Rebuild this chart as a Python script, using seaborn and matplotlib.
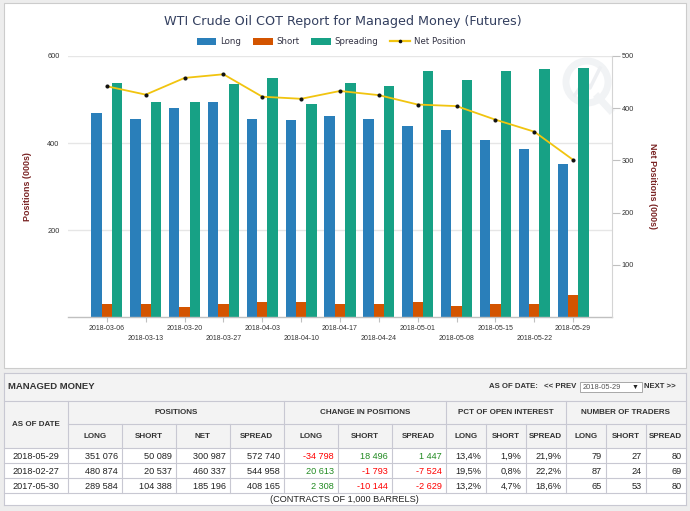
import numpy as np
import pandas as pd
import matplotlib
matplotlib.use("Agg")
import matplotlib.pyplot as plt
from matplotlib.patches import Rectangle, Patch, Circle
from matplotlib.lines import Line2D
import seaborn as sns

# ---------------- data ----------------
dates = ['2018-03-06', '2018-03-13', '2018-03-20', '2018-03-27', '2018-04-03',
         '2018-04-10', '2018-04-17', '2018-04-24', '2018-05-01', '2018-05-08',
         '2018-05-15', '2018-05-22', '2018-05-29']
long_pos = [470, 455, 481, 494, 455, 452, 461, 455, 440, 429, 406, 386, 351]
short_pos = [29, 31, 23, 31, 34, 34, 29, 31, 34, 25, 29, 31, 50]
spreading = [538, 494, 494, 535, 550, 490, 538, 530, 565, 545, 566, 571, 573]
net_pos = [442, 426, 458, 465, 422, 418, 433, 425, 407, 404, 378, 355, 301]

series_names = ['Long', 'Short', 'Spreading']
left_ticks = [200, 400, 600]
right_ticks = [100, 200, 300, 400, 500]

chart_title = 'WTI Crude Oil COT Report for Managed Money (Futures)'

# table data
tbl_dates = ['2018-05-29', '2018-02-27', '2017-05-30']
tbl_pos_long = ['351 076', '480 874', '289 584']
tbl_pos_short = ['50 089', '20 537', '104 388']
tbl_pos_net = ['300 987', '460 337', '185 196']
tbl_pos_spread = ['572 740', '544 958', '408 165']
tbl_chg_long = ['-34 798', '20 613', '2 308']
tbl_chg_short = ['18 496', '-1 793', '-10 144']
tbl_chg_spread = ['1 447', '-7 524', '-2 629']
tbl_pct_long = ['13,4%', '19,5%', '13,2%']
tbl_pct_short = ['1,9%', '0,8%', '4,7%']
tbl_pct_spread = ['21,9%', '22,2%', '18,6%']
tbl_tr_long = ['79', '87', '65']
tbl_tr_short = ['27', '24', '53']
tbl_tr_spread = ['80', '69', '80']
group_headers = ['POSITIONS', 'CHANGE IN POSITIONS', 'PCT OF OPEN INTEREST', 'NUMBER OF TRADERS']
sub_headers = ['LONG', 'SHORT', 'NET', 'SPREAD', 'LONG', 'SHORT', 'SPREAD',
               'LONG', 'SHORT', 'SPREAD', 'LONG', 'SHORT', 'SPREAD']

# ---------------- style ----------------
colors = {'Long': '#2A7FBA', 'Short': '#D35400', 'Spreading': '#17A185'}
net_color = '#F1C40F'
axis_label_color = '#7A2424'
tick_color = '#333333'
W, H = 690, 511

def fx(x):
    return x / W

def fy(y):
    return 1 - y / H

fig = plt.figure(figsize=(6.9, 5.11), dpi=100, facecolor='#EDEDED')

# background / panels in pixel coordinates
bg = fig.add_axes([0, 0, 1, 1], zorder=0)
bg.set_xlim(0, W)
bg.set_ylim(H, 0)
bg.axis('off')
bg.add_patch(Rectangle((3.5, 3.5), 682, 364.5, facecolor='white', edgecolor='#CCCCCC', lw=0.8))
# faint watermark
wm = '#F1F3F5'
bg.add_patch(Circle((587, 82), 21, facecolor='none', edgecolor=wm, lw=5, zorder=2))
bg.add_line(Line2D([598, 610], [97, 110], color=wm, lw=5, zorder=2))
bg.add_line(Line2D([575, 585, 590, 600], [95, 80, 88, 68], color='#EDEFF2', lw=2.5, zorder=2))

# ---------------- chart ----------------
ax = fig.add_axes([fx(68), fy(317), (612 - 68) / W, (317 - 56) / H], zorder=1)
ax.patch.set_visible(False)

df = pd.DataFrame({'date': dates, 'Long': long_pos, 'Short': short_pos,
                   'Spreading': spreading}).melt(id_vars='date', var_name='series',
                                                 value_name='value')
sns.barplot(data=df, x='date', y='value', hue='series', hue_order=series_names,
            palette=colors, width=0.8, saturation=1, ax=ax, legend=False,
            edgecolor='none', linewidth=0)

ax.set_xlim(-1, len(dates))
ax.set_ylim(0, 600)
ax.set_yticks(left_ticks)
ax.set_yticklabels([str(t) for t in left_ticks])
ax.yaxis.grid(True, color='#E6E6E6', lw=1)
ax.set_axisbelow(True)
for s in ['top', 'left', 'right']:
    ax.spines[s].set_visible(False)
ax.spines['bottom'].set_color('#C0C0C0')
ax.spines['bottom'].set_linewidth(1)
ax.tick_params(axis='y', length=0, pad=6, labelsize=5.3, labelcolor=tick_color)
ax.tick_params(axis='x', length=3.5, color='#C0C0C0', width=0.8, pad=2,
               labelsize=5.0, labelcolor=tick_color)
ax.set_xticks(range(len(dates)))
ax.set_xticklabels([d if i % 2 == 0 else '\n' + d for i, d in enumerate(dates)])
for lab in ax.get_xticklabels():
    lab.set_linespacing(1.75)
ax.set_xlabel('')
ax.set_ylabel('Positions (000s)', color=axis_label_color, fontsize=6.4,
              fontweight='bold', family='Liberation Sans')
ax.yaxis.set_label_coords((28 - 68) / 544, 0.5)
ax.yaxis.label.set_va('center')
for lab in ax.get_yticklabels() + ax.get_xticklabels():
    lab.set_family('Liberation Sans')

ax2 = ax.twinx()
ax2.set_zorder(2)
ax2.patch.set_visible(False)
sns.lineplot(x=np.arange(len(dates)), y=net_pos, ax=ax2, color=net_color, lw=1.3,
             marker='o', markersize=2.2, markerfacecolor='#111111',
             markeredgecolor='#111111', zorder=3)
ax2.set_xlim(-1, len(dates))
ax2.set_ylim(0, 500)
ax2.set_yticks(right_ticks)
ax2.set_yticklabels([str(t) for t in right_ticks])
for s in ['top', 'left', 'bottom']:
    ax2.spines[s].set_visible(False)
ax2.spines['right'].set_color('#D4D4D4')
ax2.spines['right'].set_linewidth(0.8)
ax2.tick_params(axis='y', length=5.5, width=0.8, color='#C0C0C0', pad=1.5,
                labelsize=5.3, labelcolor=tick_color)
for lab in ax2.get_yticklabels():
    lab.set_family('Liberation Sans')
ax2.set_ylabel('Net Positions (000s)', color=axis_label_color, fontsize=6.4,
               fontweight='bold', rotation=270, family='Liberation Sans')
ax2.yaxis.set_label_coords((652 - 68) / 544, 0.5)
ax2.yaxis.label.set_va('center')

# title & legend
fig.text(fx(343), fy(21), chart_title, ha='center', va='center', fontsize=9.2,
         color='#333F5F', family='DejaVu Sans')
handles = [Patch(facecolor=colors[n], edgecolor='none') for n in series_names]
handles.append(Line2D([0], [0], color=net_color, lw=1.6, marker='o', markersize=1.6,
                      markerfacecolor='#111111', markeredgecolor='#111111'))
fig.legend(handles, series_names + ['Net Position'], loc='center',
           bbox_to_anchor=(fx(331), fy(42)), ncol=4, frameon=False,
           prop={'family': 'DejaVu Sans', 'size': 6.2}, labelcolor='#333344',
           handlelength=2.3, handleheight=0.95, handletextpad=0.45,
           columnspacing=1.35, borderaxespad=0, borderpad=0)

# ---------------- table ----------------
cols = [3.5, 67.7, 121.7, 175.7, 229.7, 283.7, 337.7, 391.7, 445.7, 485.7,
        525.7, 565.7, 605.7, 645.7, 685.5]
y_top, y_h1, y_h2, y_h3 = 373.0, 400.7, 424.3, 448.3
row_lines = [463.3, 478.3, 493.3]
y_bot = 505.0
lc = '#C8C8D2'
lw = 0.8
hdr_color = '#333333'
tfam = ['Liberation Sans', 'DejaVu Sans']

bg.add_patch(Rectangle((cols[0], y_top), cols[-1] - cols[0], y_h3 - y_top,
                       facecolor='#F3F3F3', edgecolor='none'))
bg.add_patch(Rectangle((cols[0], y_h3), cols[-1] - cols[0], y_bot - y_h3,
                       facecolor='white', edgecolor='none'))
# horizontal lines
for yy in [y_top, y_h1, y_h3] + row_lines + [y_bot]:
    bg.plot([cols[0], cols[-1]], [yy, yy], color=lc, lw=lw)
bg.plot([cols[1], cols[-1]], [y_h2, y_h2], color=lc, lw=lw)
# vertical lines
for xx in [cols[0], cols[-1]]:
    bg.plot([xx, xx], [y_top, y_bot], color=lc, lw=lw)
group_bounds = [1, 5, 8, 11, 14]
for i, xx in enumerate(cols[1:-1], start=1):
    if i in group_bounds:
        bg.plot([xx, xx], [y_h1, row_lines[-1]], color=lc, lw=lw)
    else:
        bg.plot([xx, xx], [y_h2, row_lines[-1]], color=lc, lw=lw)

bg.text(8, 386.8, 'MANAGED MONEY', ha='left', va='center', fontsize=6.8,
        fontweight='bold', color=hdr_color, family=tfam)
bg.text(489, 387, 'AS OF DATE:', ha='left', va='center', fontsize=5.6,
        fontweight='bold', color=hdr_color, family=tfam)
bg.text(544, 387, '<< PREV', ha='left', va='center', fontsize=5.6,
        fontweight='bold', color=hdr_color, family=tfam)
bg.add_patch(Rectangle((579.5, 382.5), 62, 9.5, facecolor='white', edgecolor='#A8A8A8', lw=0.7))
bg.text(583, 387.3, '2018-05-29', ha='left', va='center', fontsize=5.4,
        color='#555555', family=tfam)
bg.text(635, 387.3, '\u25BC', ha='center', va='center', fontsize=5,
        color='#222222', family=tfam)
bg.text(644, 387, 'NEXT >>', ha='left', va='center', fontsize=5.6,
        fontweight='bold', color=hdr_color, family=tfam)

bg.text((cols[0] + cols[1]) / 2, (y_h1 + y_h3) / 2, 'AS OF DATE', ha='center',
        va='center', fontsize=5.8, fontweight='bold', color=hdr_color, family=tfam)
for name, a, b in zip(group_headers, group_bounds[:-1], group_bounds[1:]):
    bg.text((cols[a] + cols[b]) / 2, (y_h1 + y_h2) / 2 + 0.5, name, ha='center',
            va='center', fontsize=5.8, fontweight='bold', color=hdr_color, family=tfam)
for i, name in enumerate(sub_headers, start=1):
    bg.text((cols[i] + cols[i + 1]) / 2, (y_h2 + y_h3) / 2 + 0.5, name, ha='center',
            va='center', fontsize=5.8, fontweight='bold', color=hdr_color, family=tfam)

columns = [tbl_pos_long, tbl_pos_short, tbl_pos_net, tbl_pos_spread,
           tbl_chg_long, tbl_chg_short, tbl_chg_spread,
           tbl_pct_long, tbl_pct_short, tbl_pct_spread,
           tbl_tr_long, tbl_tr_short, tbl_tr_spread]
row_tops = [y_h3] + row_lines[:-1]
for r in range(len(tbl_dates)):
    yc = (row_tops[r] + row_lines[r]) / 2 + 0.3
    bg.text((cols[0] + cols[1]) / 2, yc, tbl_dates[r], ha='center', va='center',
            fontsize=6.6, color='#222222', family=tfam)
    for c, colvals in enumerate(columns, start=1):
        val = colvals[r]
        colr = '#222222'
        if 5 <= c <= 7:
            colr = '#FF0000' if val.startswith('-') else '#228B22'
        bg.text(cols[c + 1] - 4, yc, val, ha='right', va='center', fontsize=6.6,
                color=colr, family=tfam)
bg.text(344, 499.5, '(CONTRACTS OF 1,000 BARRELS)', ha='center', va='center',
        fontsize=6.6, color='#222222', family=tfam)

fig.savefig('out.png', dpi=100, facecolor=fig.get_facecolor())
